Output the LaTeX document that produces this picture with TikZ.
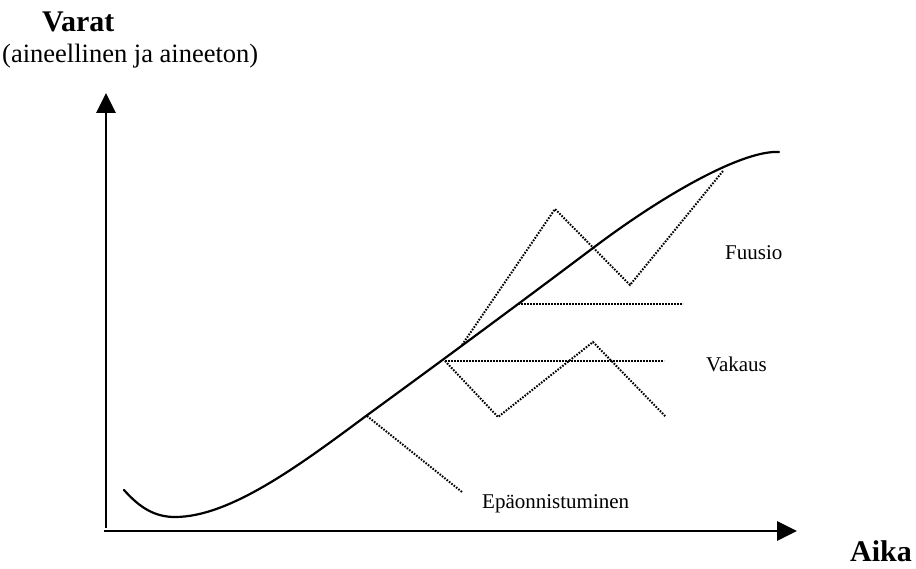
\documentclass[tikz,border=0pt]{standalone}
\usepackage{fontspec}
\setmainfont{Liberation Serif}
\usetikzlibrary{arrows.meta}

\tikzset{
  axis/.style={line width=2.8pt, -{Triangle[length=20pt,width=19pt]}},
  growth/.style={line width=2.2pt, line cap=round},
  pathline/.style={line width=2pt, dash pattern=on 1.6pt off 1.4pt},
  title/.style={anchor=base west, inner sep=0pt, font=\fontsize{30}{30}\selectfont\bfseries},
  subtitle/.style={anchor=base west, inner sep=0pt, font=\fontsize{26.5}{26.5}\selectfont},
  label/.style={anchor=base west, inner sep=0pt, font=\fontsize{21}{21}\selectfont}
}

\begin{document}
\begin{tikzpicture}[x=1pt,y=-1pt]
  \useasboundingbox (0,0) rectangle (916,569);

  % axes
  \coordinate (ybot) at (106,528);
  \coordinate (ytop) at (106,93);
  \coordinate (xleft) at (104,531);
  \coordinate (xright) at (797,531);
  \draw[axis] (ybot) -- (ytop);
  \draw[axis] (xleft) -- (xright);

  % axis titles
  \node[title] (varat) at (42,32) {Varat};
  \node[subtitle] (varatsub) at (2,63) {(aineellinen ja aineeton)};
  \node[title] (aika) at (850,561) {Aika};

  % S-shaped growth curve
  \coordinate (cstart) at (124,490);
  \coordinate (cmin) at (175,517);
  \coordinate (cmid) at (366,416);
  \coordinate (cupper) at (593,248);
  \coordinate (cend) at (779,152);
  \draw[growth] (cstart) .. controls (140,508) and (155,517) .. (cmin)
                         .. controls (230,517) and (300,465) .. (cmid)
                         .. controls (440,362) and (520,303) .. (cupper)
                         .. controls (670,190) and (745,150) .. (cend);

  % branching points on the curve
  \coordinate (pfail) at (367,416);
  \coordinate (pstab) at (445,361);
  \coordinate (pfus) at (462,345);
  \coordinate (pfush) at (518,304);

  % failure branch
  \coordinate (failend) at (462,492);
  \draw[pathline] (pfail) -- (failend);

  % stability branch
  \coordinate (stabh) at (664,361);
  \coordinate (stab1) at (498,417);
  \coordinate (stab2) at (593,342);
  \coordinate (stab3) at (666,417);
  \draw[pathline] (pstab) -- (stabh);
  \draw[pathline] (pstab) -- (stab1) -- (stab2) -- (stab3);

  % fusion branch
  \coordinate (fush) at (683,304);
  \coordinate (fus1) at (555,209);
  \coordinate (fus2) at (630,285);
  \coordinate (fus3) at (723,171);
  \draw[pathline] (pfush) -- (fush);
  \draw[pathline] (pfus) -- (fus1) -- (fus2) -- (fus3);

  % branch labels
  \node[label] (fuusio) at (725,260) {Fuusio};
  \node[label] (vakaus) at (706,372) {Vakaus};
  \node[label] (epa) at (482,508) {Epäonnistuminen};
\end{tikzpicture}
\end{document}
